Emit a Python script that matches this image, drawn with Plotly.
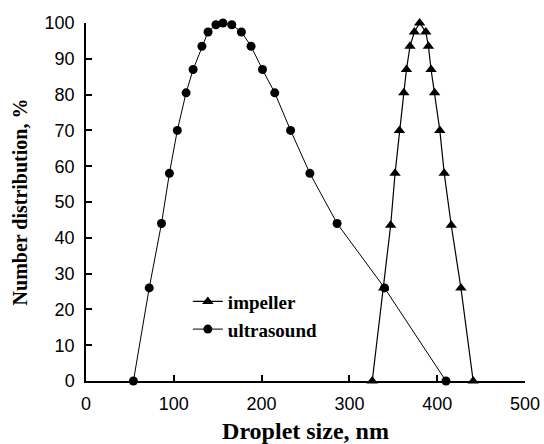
import plotly.graph_objects as go

# Data
impeller_x = [326, 339, 347, 352, 357, 362, 365, 369, 374, 380, 387, 390, 393, 397, 403, 408, 416, 427, 441]
impeller_y = [0, 26, 43.5, 58, 70, 80.5, 87, 93.5, 97.5, 100, 97.5, 93.5, 87, 80.5, 70, 58, 43.5, 26, 0]

ultrasound_x = [54, 72, 86, 95, 104, 114, 122, 132, 139, 148, 156, 166, 177, 188, 201, 215, 233, 255, 286, 340, 410]
ultrasound_y = [0, 26, 44, 58, 70, 80.5, 87, 93.5, 97.5, 99.5, 100, 99.5, 97.5, 93.5, 87, 80.5, 70, 58, 44, 26, 0]

x_ticks = [0, 100, 200, 300, 400, 500]
y_ticks = [0, 10, 20, 30, 40, 50, 60, 70, 80, 90, 100]

fig = go.Figure()
fig.add_trace(go.Scatter(
    x=impeller_x, y=impeller_y, name="<b>impeller</b>", mode="lines+markers",
    line=dict(color="black", width=1.2),
    marker=dict(symbol="triangle-up", size=10, color="black"),
    cliponaxis=False, legendgroup="a",
))
fig.add_trace(go.Scatter(
    x=ultrasound_x, y=ultrasound_y, name="<b>ultrasound</b>", mode="lines+markers",
    line=dict(color="black", width=1),
    marker=dict(symbol="circle", size=9, color="black"),
    cliponaxis=False, legendgroup="b",
))

axis_common = dict(
    showgrid=False, zeroline=False, showline=True, linecolor="black", linewidth=1.5,
    ticks="inside", ticklen=6, tickwidth=1.5, tickcolor="black", automargin=False,
    tickfont=dict(family="Liberation Sans, Arial", size=18, color="black"),
)

fig.update_layout(
    width=544, height=444,
    margin=dict(l=86, r=19, t=23, b=63),
    paper_bgcolor="white", plot_bgcolor="white",
    xaxis=dict(range=[0, 500], tickvals=x_ticks, ticklabelstandoff=6,
               title=dict(text="<b>Droplet size, nm</b>", standoff=10,
                          font=dict(family="Liberation Serif, Times New Roman", size=24, color="black")),
               **axis_common),
    yaxis=dict(range=[0, 100], tickvals=y_ticks, ticklabelstandoff=6,
               title=dict(text="<b>Number distribution, %</b>", standoff=12,
                          font=dict(family="Liberation Serif, Times New Roman", size=20, color="black")),
               **axis_common),
    legend=dict(x=0.232, y=0.275, xanchor="left", yanchor="top",
                bgcolor="rgba(0,0,0,0)", tracegroupgap=12,
                font=dict(family="Liberation Serif, Times New Roman", size=19, color="black"),
                traceorder="normal"),
    showlegend=True,
)

fig.write_html("out.html")
